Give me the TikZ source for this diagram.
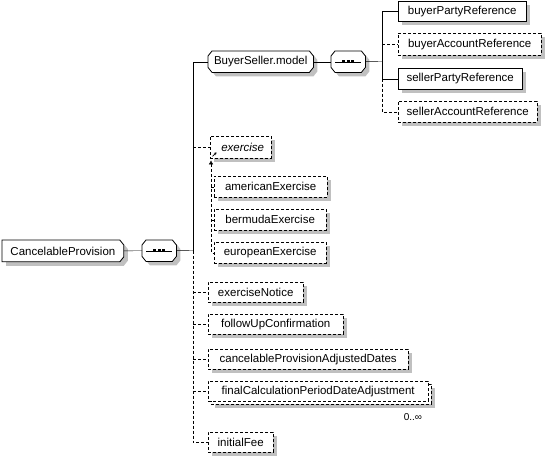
\documentclass[tikz,border=0pt]{standalone}
\usepackage{fontspec}
\setmainfont{Liberation Sans}
\usetikzlibrary{arrows.meta}
\definecolor{shadowc}{RGB}{192,192,192}
\pgfdeclarelayer{shadowl}
\pgfdeclarelayer{boxl}
\pgfsetlayers{shadowl,boxl,main}
% chamfered outline (all corners), drawn behind the text node #1
\newcommand\chamboxall[1]{%
  \begin{pgfonlayer}{shadowl}
  \fill[shadowc] ([shift={(8pt,-4pt)}]#1.north west) -- ([shift={(0pt,-4pt)}]#1.north east) -- ([shift={(4pt,-9pt)}]#1.north east) -- ([shift={(4pt,1pt)}]#1.south east) -- ([shift={(0pt,-4pt)}]#1.south east) -- ([shift={(8pt,-4pt)}]#1.south west) -- ([shift={(4pt,1pt)}]#1.south west) -- ([shift={(4pt,-9pt)}]#1.north west) -- cycle;
  \end{pgfonlayer}
  \begin{pgfonlayer}{boxl}
  \draw[fill=white, line width=0.8pt, line join=miter] ([xshift=4pt]#1.north west) -- ([xshift=-4pt]#1.north east) -- ([yshift=-5pt]#1.north east) -- ([yshift=5pt]#1.south east) -- ([xshift=-4pt]#1.south east) -- ([xshift=4pt]#1.south west) -- ([yshift=5pt]#1.south west) -- ([yshift=-5pt]#1.north west) -- cycle;
  \end{pgfonlayer}}
% chamfered on the east side only
\newcommand\chamboxeast[1]{%
  \begin{pgfonlayer}{shadowl}
  \fill[shadowc] ([shift={(4pt,-4pt)}]#1.north west) -- ([shift={(0pt,-4pt)}]#1.north east) -- ([shift={(4pt,-9pt)}]#1.north east) -- ([shift={(4pt,1pt)}]#1.south east) -- ([shift={(0pt,-4pt)}]#1.south east) -- ([shift={(4pt,-4pt)}]#1.south west) -- cycle;
  \end{pgfonlayer}
  \begin{pgfonlayer}{boxl}
  \draw[fill=white, line width=0.8pt] (#1.north west) -- ([xshift=-4pt]#1.north east) -- ([yshift=-5pt]#1.north east) -- ([yshift=5pt]#1.south east) -- ([xshift=-4pt]#1.south east) -- (#1.south west) -- cycle;
  \end{pgfonlayer}}
\newcommand\seqsymbol[1]{%
  \draw ([xshift=4pt]#1.west) -- ([xshift=-4pt]#1.east);
  \foreach \dx in {-4.5,0,4.5} \fill ([xshift=\dx pt]#1.center) +(-1.5,-1.5) rectangle +(1.5,1.5);}
\begin{document}
\begin{tikzpicture}[x=1pt,y=-1pt,
  font=\fontsize{11.5}{13}\selectfont,
  line width=0.8pt,
  opt/.style={dash pattern=on 3pt off 2pt},
  elem/.style={draw, fill=white, rectangle, inner sep=0pt, minimum height=21pt, anchor=north west},
  optelem/.style={elem, opt},
  grp/.style={rectangle, inner sep=0pt, minimum height=21pt, anchor=north west},
  seqbox/.style={grp, minimum width=34pt}
]
\useasboundingbox (0,0) rectangle (547,458);

% root and first sequence
\node[grp, minimum width=121pt] (root) at (2,240) {CancelableProvision};
\chamboxeast{root}
\node[seqbox] (s1) at (142,240) {};
\chamboxall{s1}
\seqsymbol{s1}
\draw (root.east) -- (s1.west);
\coordinate (b1) at (193,250.5);
\draw (s1.east) -- (b1);

% BuyerSeller.model group
\node[grp, minimum width=105pt] (bsm) at (208,51) {BuyerSeller.model};
\chamboxall{bsm}
\node[seqbox] (s2) at (331,51) {};
\chamboxall{s2}
\seqsymbol{s2}
\draw (bsm.east) -- (s2.west);
\coordinate (b2) at (382,61.5);
\draw (s2.east) -- (b2);

\node[elem, minimum width=128pt, minimum height=20pt] (bpr) at (398,1) {buyerPartyReference};
\node[optelem, minimum width=143pt, minimum height=22pt] (bar) at (398,33) {buyerAccountReference};
\node[elem, minimum width=124pt] (spr) at (398,68) {sellerPartyReference};
\node[optelem, minimum width=139pt] (sar) at (398,101) {sellerAccountReference};
\draw (b2) |- (bpr.west);
\draw (b2) |- (spr.west);
\draw[opt] (spr.west -| b2) |- (sar.west);
\draw[opt] (bar.west -| b2) -- (bar.west);

% exercise substitution group
\node[optelem, minimum width=61pt, minimum height=22pt, font=\fontsize{11.5}{13}\selectfont\itshape] (ex) at (210,136) {\hspace*{4pt}exercise};
\draw[-{Stealth[length=2.5pt,width=3pt]}, line width=0.7pt] ([xshift=2.5pt,yshift=2pt]ex.south west) -- ++(4,-4);
\node[optelem, minimum width=113pt] (am) at (214,176) {americanExercise};
\node[optelem, minimum width=112pt] (be) at (214,209) {bermudaExercise};
\node[optelem, minimum width=112pt] (eu) at (214,242) {europeanExercise};
\coordinate (ea) at ([xshift=1pt,yshift=-2pt]ex.south west);
\draw[opt, {Latex[length=4pt,width=4.5pt]}-] (ea) |- (eu.west);
\draw[opt] (am.west -| ea) -- (am.west);
\draw[opt] (be.west -| ea) -- (be.west);

% other children
\node[optelem, minimum width=95pt, minimum height=20pt] (en) at (208,282) {exerciseNotice};
\node[optelem, minimum width=135pt, minimum height=20pt] (fu) at (208,314) {followUpConfirmation};
\node[optelem, minimum width=200pt, minimum height=20pt] (cp) at (208,349) {cancelableProvisionAdjustedDates};
\node[optelem, minimum width=220pt, minimum height=20pt] (fcback) at (211,384) {};
\node[optelem, minimum width=220pt, minimum height=20pt] (fc) at (208,381) {finalCalculationPeriodDateAdjustment};
\node[font=\fontsize{10}{12}\selectfont] (mult) at (413,417) {0..∞};
\node[optelem, minimum width=65pt, minimum height=20pt] (ifee) at (208,432) {initialFee};

% shadows of the element boxes
\begin{pgfonlayer}{shadowl}
\foreach \n in {bpr,bar,spr,sar,ex,am,be,eu,en,fu,cp,fcback,ifee}
  \fill[shadowc] ([shift={(4pt,-4pt)}]\n.south west) rectangle ([shift={(4pt,-4pt)}]\n.north east);
\end{pgfonlayer}

% main bus
\draw (b1) |- (bsm.west);
\draw[opt] (b1) |- (ifee.west);
\draw[opt] (ex.west -| b1) -- (ex.west);
\draw[opt] (en.west -| b1) -- (en.west);
\draw[opt] (fu.west -| b1) -- (fu.west);
\draw[opt] (cp.west -| b1) -- (cp.west);
\draw[opt] (fc.west -| b1) -- (fc.west);
\end{tikzpicture}
\end{document}
